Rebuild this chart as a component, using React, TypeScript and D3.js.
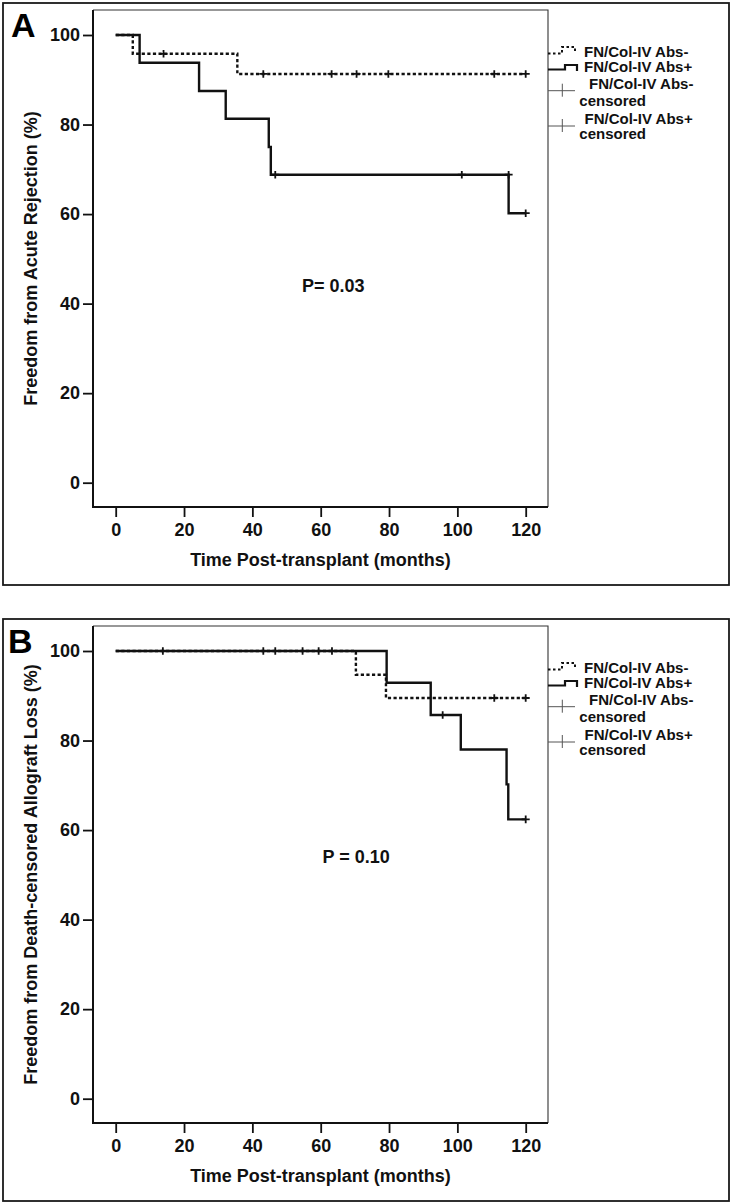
import React, { useEffect, useRef } from "react";
import * as d3 from "d3";

// ---- Axis ticks ----
const xTicks = [0, 20, 40, 60, 80, 100, 120];
const yTicks = [0, 20, 40, 60, 80, 100];

// ---- Panel A: Acute rejection ----
const aNegEventTimes = [5, 35.6];
const aNegSurvival = [95.8, 91.3];
const aNegCensored = [14, 43.2, 63.2, 70.5, 79.8, 110.8, 120];
const aPosEventTimes = [7, 24.4, 32.2, 44.8, 45.4, 115];
const aPosSurvival = [93.8, 87.5, 81.3, 75, 68.8, 60.2];
const aPosCensored = [46.7, 101.3, 115, 120];

// ---- Panel B: Death-censored allograft loss ----
const bNegEventTimes = [70.3, 79.1];
const bNegSurvival = [94.7, 89.5];
const bNegCensored = [110.8, 120];
const bPosEventTimes = [79.3, 92.2, 101, 114.4, 114.9];
const bPosSurvival = [92.9, 85.7, 78.0, 70.2, 62.4];
const bPosCensored = [13.8, 43.2, 46.7, 54.7, 59.4, 63.3, 95.7, 120];

const legendLabels = ["FN/Col-IV Abs-", "FN/Col-IV Abs+"];

const FONT = "'Liberation Sans', Arial, Helvetica, sans-serif";

type Series = { times: number[]; surv: number[]; cens: number[] };

export default function App() {
  const ref = useRef<SVGSVGElement>(null);

  useEffect(() => {
    const svg = d3.select(ref.current);
    svg.selectAll("*").remove();

    const panels = [
      {
        dy: 0,
        letter: "A",
        letterX: 11,
        yTitle: "Freedom from Acute Rejection (%)",
        pText: "P= 0.03",
        pX: 302,
        pY: 291.5,
        neg: { times: aNegEventTimes, surv: aNegSurvival, cens: aNegCensored },
        pos: { times: aPosEventTimes, surv: aPosSurvival, cens: aPosCensored },
      },
      {
        dy: 616,
        letter: "B",
        letterX: 8,
        yTitle: "Freedom from Death-censored Allograft Loss (%)",
        pText: "P = 0.10",
        pX: 322.5,
        pY: 247,
        neg: { times: bNegEventTimes, surv: bNegSurvival, cens: bNegCensored },
        pos: { times: bPosEventTimes, surv: bPosSurvival, cens: bPosCensored },
      },
    ];

    const x = d3.scaleLinear().domain([0, 120]).range([115.7, 525.7]);
    const y = d3.scaleLinear().domain([0, 100]).range([482.7, 35]);
    const plotL = 93, plotR = 548, plotT = 10, plotB = 507;

    const survAt = (s: Series, t: number) => {
      let v = 100;
      s.times.forEach((et, i) => {
        if (et < t) v = s.surv[i];
      });
      return v;
    };

    const stepLine = d3
      .line<[number, number]>()
      .x((d) => x(d[0]))
      .y((d) => y(d[1]))
      .curve(d3.curveStepAfter);

    const seriesPoints = (s: Series): [number, number][] => {
      const pts: [number, number][] = [[0, 100]];
      s.times.forEach((t, i) => pts.push([t, s.surv[i]]));
      pts.push([120, s.surv[s.surv.length - 1]]);
      return pts;
    };

    panels.forEach((p) => {
      const g = svg.append("g").attr("transform", `translate(0,${p.dy})`);

      // outer frame
      g.append("rect")
        .attr("x", 3).attr("y", 3).attr("width", 726).attr("height", 582)
        .attr("fill", "none").attr("stroke", "#1a1a1a").attr("stroke-width", 1.8);

      // plot box (thin top/right)
      g.append("path")
        .attr("d", `M${plotL},${plotT}H${plotR}V${plotB}`)
        .attr("fill", "none").attr("stroke", "#333").attr("stroke-width", 1.1);
      // axis lines (thicker left/bottom)
      g.append("path")
        .attr("d", `M${plotL},${plotT}V${plotB}H${plotR}`)
        .attr("fill", "none").attr("stroke", "#111").attr("stroke-width", 2);

      // y axis
      const yAx = g.append("g").attr("transform", `translate(${plotL},0)`)
        .call(d3.axisLeft(y).tickValues(yTicks).tickSize(10).tickPadding(3).tickFormat(d3.format("d")));
      yAx.select(".domain").remove();
      yAx.selectAll("line").attr("stroke", "#111").attr("stroke-width", 1.8);
      yAx.selectAll("text").attr("font-family", FONT).attr("font-size", 18)
        .attr("font-weight", "bold").attr("fill", "#111");

      // x axis
      const xAx = g.append("g").attr("transform", `translate(0,${plotB})`)
        .call(d3.axisBottom(x).tickValues(xTicks).tickSize(10).tickPadding(6).tickFormat(d3.format("d")));
      xAx.select(".domain").remove();
      xAx.selectAll("line").attr("stroke", "#111").attr("stroke-width", 1.8);
      xAx.selectAll("text").attr("font-family", FONT).attr("font-size", 18)
        .attr("font-weight", "bold").attr("fill", "#111");

      // titles
      g.append("text")
        .attr("x", (plotL + plotR) / 2).attr("y", 566)
        .attr("text-anchor", "middle")
        .attr("font-family", FONT).attr("font-size", 18).attr("font-weight", "bold")
        .attr("fill", "#111")
        .text("Time Post-transplant (months)");
      g.append("text")
        .attr("transform", `translate(36.5,${(plotT + plotB) / 2}) rotate(-90)`)
        .attr("text-anchor", "middle")
        .attr("font-family", FONT).attr("font-size", 18).attr("font-weight", "bold")
        .attr("fill", "#111")
        .text(p.yTitle);

      // panel letter
      g.append("text")
        .attr("x", p.letterX).attr("y", 37)
        .attr("font-family", FONT).attr("font-size", 34).attr("font-weight", "bold")
        .attr("fill", "#000")
        .text(p.letter);

      // P value
      g.append("text")
        .attr("x", p.pX).attr("y", p.pY)
        .attr("font-family", FONT).attr("font-size", 18).attr("font-weight", "bold")
        .attr("fill", "#111")
        .text(p.pText);

      // curves
      const drawSeries = (s: Series, dashed: boolean) => {
        g.append("path")
          .attr("d", stepLine(seriesPoints(s)) as string)
          .attr("fill", "none").attr("stroke", "#111").attr("stroke-width", 2.4)
          .attr("stroke-dasharray", dashed ? "3.2,2.4" : null);
        s.cens.forEach((t) => {
          const cx = x(t), cy = y(survAt(s, t));
          g.append("path")
            .attr("d", `M${cx},${cy - 3.8}V${cy + 3.8}M${cx - 4},${cy}H${cx + 4}`)
            .attr("fill", "none").attr("stroke", "#111").attr("stroke-width", 1.8);
        });
      };
      drawSeries(p.neg, true);
      drawSeries(p.pos, false);

      // legend
      const lg = g.append("g");
      const lx0 = plotR;
      // dashed sample
      lg.append("path")
        .attr("d", `M${lx0},${53.5}H${lx0 + 14}V${47}H${lx0 + 27}V${52}`)
        .attr("fill", "none").attr("stroke", "#111").attr("stroke-width", 2)
        .attr("stroke-dasharray", "2.5,2.5");
      lg.append("text").attr("x", 584).attr("y", 57)
        .attr("font-family", FONT).attr("font-size", 15).attr("font-weight", "bold").attr("fill", "#111")
        .text(legendLabels[0]);
      // solid sample
      lg.append("path")
        .attr("d", `M${lx0},${69.5}H${lx0 + 17}V${65}H${lx0 + 29}V${71}`)
        .attr("fill", "none").attr("stroke", "#111").attr("stroke-width", 2.2);
      lg.append("text").attr("x", 584).attr("y", 72)
        .attr("font-family", FONT).attr("font-size", 15).attr("font-weight", "bold").attr("fill", "#111")
        .text(legendLabels[1]);
      // censored samples
      const censRows = [
        { lineY: 90.7, textY: 88.8, textX: 589, label: legendLabels[0], censY: 105.5 },
        { lineY: 126, textY: 123.8, textX: 584.5, label: legendLabels[1], censY: 138.8 },
      ];
      censRows.forEach((r) => {
        lg.append("path")
          .attr("d", `M${lx0},${r.lineY}H${575}M${562.3},${r.lineY - 7}V${r.lineY + 6}`)
          .attr("fill", "none").attr("stroke", "#555").attr("stroke-width", 1);
        lg.append("text").attr("x", r.textX).attr("y", r.textY)
          .attr("font-family", FONT).attr("font-size", 15).attr("font-weight", "bold").attr("fill", "#111")
          .text(r.label);
        lg.append("text").attr("x", 579.3).attr("y", r.censY)
          .attr("font-family", FONT).attr("font-size", 15).attr("font-weight", "bold").attr("fill", "#111")
          .text("censored");
      });
    });
  }, []);

  return (
    <svg
      ref={ref}
      width={733}
      height={1204}
      style={{ position: "absolute", left: 0, top: 0, background: "#fff" }}
    />
  );
}
